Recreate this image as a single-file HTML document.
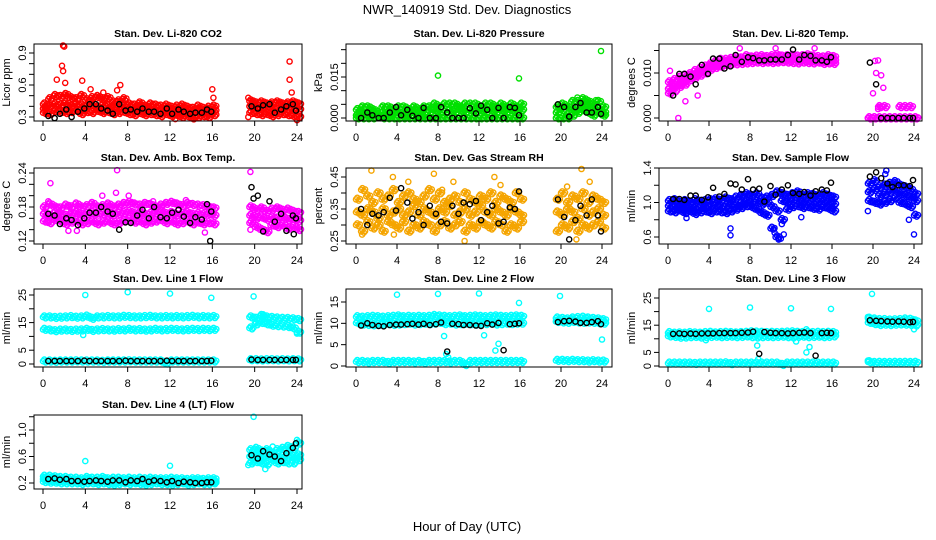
<!DOCTYPE html>
<html><head><meta charset="utf-8">
<style>
html,body{margin:0;padding:0;background:#fff;}
svg{display:block;font-family:"Liberation Sans",Arial,sans-serif;}
</style></head>
<body>
<svg id="chart" width="936" height="540" viewBox="0 0 936 540">
<text x="467" y="14" text-anchor="middle" font-size="13">NWR_140919 Std. Dev. Diagnostics</text>
<text x="467" y="531" text-anchor="middle" font-size="13">Hour of Day (UTC)</text>
</svg>
<script>
const gridHours=[0,0.5,1,1.5,2,2.5,3,3.5,4,4.5,5,5.5,6,6.5,7,7.5,8,8.5,9,9.5,10,10.5,11,11.5,12,12.5,13,13.5,14,14.5,15,15.5,16,19.5,20,20.5,21,21.5,22,22.5,23,23.5,24];
const blkHours=[0.5,1.1,1.6,2.2,2.7,3.3,3.9,4.4,5.0,5.5,6.1,6.6,7.2,7.8,8.3,8.9,9.4,10.0,10.5,11.1,11.7,12.2,12.8,13.3,13.9,14.4,15.0,15.5,15.9,19.7,20.3,20.8,21.4,21.9,22.5,23.0,23.6,23.9];
const xTicks=[0,4,8,12,16,20,24];

const co2A=[0.42,0.47,0.50,0.49,0.51,0.48,0.47,0.50,0.46,0.48,0.49,0.47,0.48,0.44,0.45,0.47,0.42,0.41,0.43,0.40,0.42,0.41,0.40,0.41,0.39,0.40,0.41,0.39,0.38,0.40,0.38,0.39,0.40,0.45,0.43,0.44,0.42,0.43,0.44,0.42,0.43,0.44,0.42];
const co2B=[0.38,0.40,0.42,0.41,0.43,0.40,0.42,0.41,0.40,0.42,0.39,0.41,0.40,0.38,0.39,0.41,0.37,0.36,0.38,0.36,0.37,0.36,0.35,0.37,0.35,0.36,0.35,0.34,0.35,0.34,0.35,0.34,0.36,0.40,0.39,0.38,0.39,0.38,0.37,0.38,0.39,0.38,0.37];
const co2C=[0.34,0.33,0.36,0.35,0.34,0.35,0.36,0.33,0.35,0.34,0.36,0.34,0.35,0.33,0.34,0.35,0.33,0.32,0.34,0.32,0.33,0.32,0.31,0.33,0.31,0.32,0.30,0.31,0.29,0.30,0.31,0.30,0.32,0.34,0.33,0.32,0.33,0.31,0.32,0.33,0.32,0.31,0.30];
const co2Out=[[1.9,0.97],[2.0,0.96],[1.8,0.78],[1.9,0.73],[1.3,0.65],[2.1,0.62],[3.7,0.64],[4.5,0.56],[5.7,0.53],[7.3,0.60],[7.0,0.55],[16,0.56],[16.1,0.48],[23.3,0.82],[23.3,0.65],[23.5,0.53],[24,0.27],[12.5,0.28],[14.2,0.28],[0.2,0.40],[19.4,0.30],[19.4,0.48]];
const co2Blk=[0.31,0.29,0.33,0.37,0.30,0.35,0.38,0.42,0.42,0.38,0.36,0.33,0.42,0.36,0.37,0.35,0.38,0.35,0.35,0.33,0.38,0.33,0.37,0.35,0.33,0.34,0.34,0.37,0.35,0.40,0.38,0.41,0.42,0.34,0.37,0.40,0.42,0.36];

const prA=[0.003,0.004,0.004,0.003,0.002,0.004,0.004,0.003,0.004,0.004,0.003,0.004,0.003,0.004,0.004,0.005,0.004,0.005,0.005,0.005,0.004,0.005,0.005,0.005,0.004,0.005,0.005,0.004,0.005,0.004,0.005,0.004,0.005,0.004,0.005,0.004,0.006,0.006,0.007,0.006,0.005,0.006,0.004];
const prB=[0.001,0.002,0.001,0.002,0.001,0.002,0.001,0.002,0.002,0.001,0.002,0.002,0.001,0.002,0.002,0.003,0.002,0.002,0.003,0.002,0.003,0.002,0.003,0.002,0.003,0.002,0.003,0.002,0.003,0.002,0.003,0.002,0.003,0.002,0.003,0.001,0.003,0.004,0.005,0.004,0.003,0.003,0.002];
const prC=[0,0,0,0,0.001,0,0,0,0,0,0,0,0,0,0,0,0,0,0,0,0,0,0,0,0,0,0,0,0,0,0,0,0,0,0,0,0.001,0.002,0.003,0.002,0.001,0.002,0.001];
const prOut=[[8,0.0155],[15.9,0.0145],[23.9,0.0245],[21.6,0.0075],[23.4,0.0065]];
const prBlk=[0,0.002,0.001,0,0,0.002,0.004,0.001,0.003,0.0008,0,0.0037,0,0,0.004,0.002,0,0,0,0.0036,0.0017,0.0045,0.003,0,0.0037,0,0.004,0.0037,0.001,0.005,0.004,0.0005,0.004,0.0055,0.002,0.002,0.004,0.0015];

const tA=[0.008,0.0085,0.009,0.0095,0.0098,0.0105,0.011,0.0115,0.012,0.0125,0.013,0.013,0.0132,0.0135,0.0133,0.0138,0.0135,0.0137,0.0138,0.0136,0.0138,0.014,0.0137,0.0138,0.0139,0.0137,0.0138,0.014,0.0137,0.0136,0.0135,0.0138,0.0136,0,0,0,0,0,0,0,0,0,0];
const tB=[0.0065,0.0072,0.0075,0.0082,0.009,0.0095,0.0102,0.0108,0.0115,0.0118,0.0122,0.0124,0.0125,0.0127,0.0128,0.0129,0.013,0.0131,0.013,0.0129,0.0131,0.013,0.0129,0.013,0.0131,0.0129,0.013,0.0128,0.013,0.0129,0.0128,0.0129,0.0128,0,0,0,0,0,0,0,0,0,0];
const tC=[0.0055,0.006,0.007,0.0075,0.0085,0.009,0.0095,0.01,0.0108,0.0112,0.0115,0.0118,0.012,0.012,0.0121,0.0122,0.0123,0.0124,0.0123,0.0124,0.0123,0.0124,0.0125,0.0124,0.0123,0.0122,0.0124,0.0123,0.0122,0.0124,0.0121,0.0122,0.0121,0,0,0.0025,0.0025,0,0,0.0025,0.0025,0.0025,0];
const tOut=[[0.2,0.0105],[1,0],[1.7,0.0037],[2.9,0.005],[20.2,0.0127],[20.5,0.0128],[20,0.0055],[20.3,0.01],[20.8,0.0095],[21,0.0067],[20.5,0.002],[20.7,0.0025],[10.5,0.0155],[14.3,0.0155],[7,0.0155]];
const tBlk=[0.005,0.0098,0.0098,0.0092,0.0075,0.0118,0.0098,0.0132,0.0132,0.011,0.0115,0.014,0.0125,0.0135,0.0133,0.0128,0.0128,0.013,0.013,0.013,0.014,0.0152,0.013,0.014,0.0138,0.0128,0.0128,0.0125,0.0135,0.0123,0.0075,0,0,0,0,0,0,0];

const aA=[0.18,0.185,0.18,0.178,0.183,0.18,0.185,0.18,0.182,0.186,0.18,0.182,0.185,0.18,0.183,0.186,0.188,0.185,0.183,0.186,0.184,0.18,0.183,0.186,0.188,0.185,0.182,0.186,0.184,0.183,0.182,0.18,0.178,0.18,0.175,0.178,0.172,0.176,0.178,0.174,0.176,0.172,0.17];
const aB=[0.168,0.165,0.17,0.167,0.165,0.168,0.17,0.166,0.168,0.17,0.167,0.168,0.17,0.166,0.168,0.17,0.172,0.168,0.17,0.167,0.168,0.17,0.172,0.168,0.17,0.166,0.168,0.17,0.167,0.168,0.166,0.168,0.165,0.165,0.16,0.162,0.158,0.162,0.16,0.162,0.158,0.16,0.156];
const aC=[0.155,0.152,0.158,0.155,0.15,0.153,0.156,0.15,0.152,0.155,0.15,0.153,0.155,0.15,0.152,0.155,0.157,0.153,0.155,0.15,0.153,0.155,0.157,0.152,0.155,0.15,0.152,0.155,0.15,0.153,0.15,0.152,0.15,0.152,0.145,0.14,0.136,0.148,0.145,0.148,0.142,0.145,0.14];
const aOut=[[0.7,0.222],[2.4,0.138],[3.2,0.138],[7,0.245],[6.9,0.205],[5.6,0.2],[8.1,0.2],[10.4,0.19],[15.3,0.135],[19.6,0.242],[19.6,0.14],[0.5,0.19],[13.5,0.192]];
const aBlk=[0.168,0.165,0.15,0.16,0.157,0.148,0.16,0.17,0.17,0.18,0.172,0.168,0.14,0.153,0.152,0.165,0.175,0.16,0.18,0.162,0.16,0.17,0.175,0.163,0.152,0.162,0.158,0.185,0.172,0.215,0.2,0.137,0.19,0.154,0.168,0.138,0.165,0.16];
const aBlkOut=[[15.8,0.12],[23.7,0.132],[19.9,0.195]];

const rA=[0.38,0.41,0.39,0.37,0.40,0.38,0.39,0.41,0.37,0.39,0.40,0.38,0.37,0.39,0.41,0.38,0.40,0.37,0.38,0.39,0.37,0.40,0.38,0.37,0.39,0.38,0.40,0.37,0.39,0.38,0.37,0.40,0.38,0.38,0.40,0.37,0.39,0.38,0.40,0.37,0.39,0.38,0.37];
const rB=[0.34,0.33,0.35,0.34,0.32,0.35,0.33,0.34,0.35,0.33,0.34,0.36,0.33,0.35,0.34,0.33,0.35,0.34,0.36,0.33,0.34,0.35,0.33,0.34,0.36,0.34,0.33,0.35,0.34,0.33,0.35,0.34,0.33,0.34,0.33,0.35,0.34,0.32,0.35,0.33,0.34,0.35,0.33];
const rC=[0.30,0.28,0.31,0.29,0.30,0.28,0.31,0.30,0.29,0.31,0.28,0.30,0.29,0.31,0.30,0.28,0.30,0.31,0.29,0.30,0.31,0.28,0.30,0.29,0.31,0.30,0.29,0.31,0.30,0.28,0.30,0.29,0.31,0.28,0.30,0.29,0.31,0.28,0.30,0.29,0.30,0.31,0.29];
const rOut=[[1.5,0.47],[3.6,0.45],[7.6,0.46],[9.5,0.435],[10.6,0.25],[13.5,0.45],[14.1,0.425],[22,0.475],[22.8,0.435],[20.6,0.42],[5.1,0.435],[0.6,0.27],[3.7,0.27],[21.5,0.255],[8.4,0.41]];
const rBlk=[0.35,0.30,0.335,0.33,0.34,0.385,0.345,0.415,0.37,0.32,0.34,0.30,0.36,0.335,0.31,0.305,0.36,0.335,0.37,0.365,0.375,0.315,0.34,0.36,0.305,0.31,0.355,0.35,0.405,0.38,0.325,0.255,0.315,0.36,0.33,0.38,0.33,0.28];

const sA=[1.02,1.03,1.0,1.02,1.0,1.03,1.01,1.02,1.03,1.04,1.02,1.05,1.03,1.06,1.08,1.10,1.08,1.10,1.05,1.06,1.08,1.12,1.10,1.08,1.1,1.12,1.08,1.10,1.09,1.07,1.10,1.08,1.06,1.22,1.25,1.18,1.2,1.22,1.24,1.2,1.18,1.15,1.1];
const sB=[0.96,0.95,0.94,0.96,0.93,0.95,0.94,0.96,0.95,0.97,0.95,0.96,0.98,0.97,1.0,1.02,1.0,1.01,0.98,1.0,0.95,0.9,1.02,1.0,1.02,1.03,1.0,1.02,1.01,1.0,1.02,1.0,0.98,1.12,1.15,1.08,1.1,1.12,1.14,1.1,1.08,1.06,1.02];
const sC=[0.9,0.89,0.91,0.88,0.9,0.87,0.89,0.9,0.88,0.9,0.89,0.88,0.9,0.92,0.94,0.96,0.95,0.92,0.88,0.85,0.7,0.6,0.8,0.92,0.95,0.96,0.94,0.95,0.93,0.92,0.95,0.93,0.9,1.02,1.0,0.98,1.0,1.02,1.05,1.0,0.98,0.95,0.85];
const sOut=[[1.8,0.82],[6.1,0.7],[6.1,0.62],[10.3,0.69],[10.4,0.65],[10.8,0.57],[11.3,0.63],[11.1,0.75],[13,0.83],[19.5,0.9],[21.2,1.33],[21.3,1.37],[23.5,0.8],[24,0.63],[11,0.58]];
const sBlk=[1.04,1.04,1.03,1.08,1.08,1.03,1.06,1.17,1.07,1.1,1.22,1.21,1.15,1.27,1.15,1.16,1.01,1.19,1.09,1.15,1.2,1.11,1.1,1.12,1.08,1.13,1.15,1.14,1.23,1.3,1.35,1.28,1.22,1.18,1.2,1.2,1.19,1.26];

const l1A=[17,17,16.8,16.9,17,17.1,16.9,17,17.3,16.5,17,17,17.1,17,17,17.2,17.1,17,17,17.1,17.2,17,17,17.1,17,17.1,17,17.1,17.2,17,17.1,17,17.1,17,16.5,17.5,17,16.8,16.6,16.5,16.4,16.3,16];
const l1B=[12.5,12.3,12,12.2,12.3,12.1,12.2,12.3,12.5,12.1,12.3,12.4,12.3,12.2,12.4,12.3,12.5,12.3,12.4,12.2,12.3,12.5,12.3,12.4,12.5,12.4,12.3,12.4,12.5,12.4,12.5,12.4,12.5,13,14.5,15,14.5,14,13.8,13.7,13.5,13,11.5];
const l1C=[1,1,0.9,1,1,1,1.1,1,1,1,1,0.9,1,1,1,1,1.1,1,1,1,1,1,1,0.3,1,1,1,1,1,1,1,1,1,1.5,1.5,1.4,1.5,1.5,1.4,1.5,1.4,1.5,1.4];
const l1Out=[[4,25],[8,26],[12,25.5],[15.9,24],[19.9,24.5],[3.8,10.5],[24,11],[20.8,18]];
const l1Blk=[1.1,1.1,1.1,1.1,1.1,1.1,1.2,1.1,1.1,1.1,1.1,1.1,1.1,1.2,1.1,1.1,1.1,1.1,1.1,1.1,1.2,1.1,1.1,1.1,1.1,1.1,1.1,1.1,1.2,1.6,1.5,1.5,1.5,1.5,1.5,1.5,1.5,1.5];

const l2A=[11.5,11.4,11.5,11.6,11.5,11.4,11.5,11.6,11.7,11.5,11.6,11.5,11.6,11.5,11.6,11.8,11.7,11.6,11.5,11.6,11.7,11.5,11.6,11.7,11.6,11.5,11.6,11.7,11.6,11.5,11.6,11.7,11.6,11.2,11.1,11.0,11.2,11.3,11.4,11.2,11.1,11.0,10.8];
const l2B=[10.1,9.8,9.7,9.6,9.7,9.8,9.9,9.7,9.8,9.9,10,9.8,9.9,10,9.9,10,10.2,9.9,10,9.8,9.9,10,9.9,9.8,10,9.9,10,9.8,9.9,10,9.9,10,10,10.4,10.3,10.2,10.4,10.3,10.2,10.3,10.2,10.1,10];
const l2C=[1,1,0.9,1,1,1,0.8,1,1,1,1,0.9,1,0.8,1,1,1,1,0.9,1,1,0.3,1,1,1,1,1,1,1,1,1,1,1,1.3,1.3,1.2,1.3,1.2,1.2,1.1,1.2,1.1,1.1];
const l2Out=[[4,16.7],[8,16.9],[12,17],[15.9,14.8],[19.9,16.4],[8.6,7],[12.5,7.2],[8.8,2.8],[9,2],[13.9,5.2],[13.6,3.6],[24,6.2]];
const l2Blk=[9.5,10,9.6,9.4,9.3,9.6,9.7,9.7,9.8,9.9,9.7,9.9,9.6,9.8,10.2,3.4,9.9,9.8,9.6,9.6,9.5,9.4,10,9.7,10.1,3.7,9.8,9.9,10,10.3,10.5,10.6,10.4,10.1,10.1,10.3,10.5,9.8];

const l3A=[12.2,12,12.1,12,12.2,12.1,12,12.2,12.3,12.1,12.2,12.3,12.2,12.1,12.2,12.3,12.5,12.4,12.3,12.2,12.3,12.2,12.3,12.4,12.5,12.3,12.2,12.3,12.2,12.3,12.2,12.3,12.2,17.5,17.2,17,17,16.8,16.9,17,17.2,17.1,16.5];
const l3B=[11,10.8,10.5,10.6,10.7,10.8,10.6,10.7,10.8,10.9,10.7,10.8,10.9,10.7,10.8,11,10.7,10.6,10.7,10.8,10.7,10.8,10.9,10.7,10.6,10.8,10.9,10.7,10.8,10.9,10.7,10.8,11,16,15.5,15.2,15.3,15.2,15.3,15.4,15.3,15.2,15];
const l3C=[1,1,1,1,1,0.9,1,1,1,1,1,1.1,0.8,1,1,1,1,1,1,1,1,1,0.5,1,1,1,1,1,1,1,1,1,1,1.5,1.2,1.3,1.2,1.2,1.3,1.2,1.3,1.2,1.3];
const l3Out=[[4,21],[8,21.5],[12,21.2],[15.9,21],[19.9,26.5],[3.7,9.5],[8.7,7.5],[8.8,2.5],[12.5,9],[13.5,5],[13.8,7],[13.5,13.5],[19.5,18],[24,13.5],[19.5,2]];
const l3Blk=[11.8,12,11.8,11.9,11.8,12,12,12,12.1,12.1,12.1,12.1,12.2,12.3,12.6,4.5,12.5,12.2,12.1,12.1,12,12.1,12.2,12.3,12.1,3.8,12.1,12.2,12.1,16.8,16.6,16.5,16.4,16.3,16.4,16.3,16.1,16.2];

const l4A=[0.3,0.3,0.29,0.28,0.28,0.27,0.27,0.26,0.28,0.27,0.27,0.28,0.26,0.27,0.27,0.26,0.27,0.26,0.27,0.26,0.27,0.26,0.26,0.26,0.27,0.26,0.26,0.25,0.26,0.26,0.25,0.26,0.26,0.7,0.72,0.68,0.7,0.65,0.7,0.72,0.75,0.72,0.8];
const l4B=[0.26,0.25,0.25,0.24,0.24,0.23,0.24,0.23,0.23,0.24,0.22,0.23,0.22,0.21,0.23,0.22,0.23,0.22,0.23,0.21,0.22,0.23,0.22,0.22,0.21,0.22,0.21,0.22,0.21,0.22,0.21,0.22,0.22,0.6,0.62,0.58,0.6,0.62,0.58,0.6,0.62,0.6,0.62];
const l4C=[0.22,0.21,0.21,0.2,0.2,0.2,0.2,0.19,0.2,0.2,0.19,0.2,0.19,0.18,0.19,0.2,0.19,0.2,0.19,0.18,0.19,0.2,0.19,0.19,0.18,0.19,0.2,0.18,0.19,0.2,0.19,0.19,0.2,0.5,0.52,0.5,0.48,0.55,0.5,0.52,0.5,0.5,0.55];
const l4Out=[[4,0.53],[12,0.46],[19.9,1.2],[19.4,0.47],[21.7,0.75],[21,0.41],[24,0.85]];
const l4Blk=[0.26,0.27,0.25,0.26,0.23,0.23,0.22,0.23,0.24,0.23,0.22,0.24,0.24,0.21,0.24,0.23,0.26,0.22,0.24,0.23,0.21,0.23,0.2,0.22,0.21,0.2,0.2,0.21,0.21,0.62,0.57,0.68,0.63,0.6,0.53,0.65,0.73,0.8];

const yTicksP1=[0.3,0.4,0.5,0.6,0.7,0.8,0.9], yLabP1=["0.3","0.6","0.9"];
const yTicksP2=[0,0.005,0.01,0.015,0.02,0.025], yLabP2=["0.000","0.015"];
const yTicksP3=[0,0.005,0.01,0.015], yLabP3=["0.000","0.010"];
const yTicksP4=[0.12,0.14,0.16,0.18,0.2,0.22,0.24], yLabP4=["0.12","0.18","0.24"];
const yTicksP5=[0.25,0.3,0.35,0.4,0.45], yLabP5=["0.25","0.35","0.45"];
const yTicksP6=[0.6,0.8,1.0,1.2,1.4], yLabP6=["0.6","1.0","1.4"];
const yTicksP7=[0,5,10,15,20,25], yLabP7=["0","5","15","25"];
const yTicksP8=[0,5,10,15], yLabP8=["0","5","10","15"];
const yTicksP9=[0,5,10,15,20,25], yLabP9=["0","5","15","25"];
const yTicksP10=[0.2,0.4,0.6,0.8,1.0,1.2], yLabP10=["0.2","0.6","1.0"];

const cols=[{l:34,r:302,x0:43,x24:297},{l:346,r:612,x0:356,x24:602},{l:659,r:922,x0:668,x24:914}];
const rows=[{t:44,b:121},{t:168,b:244},{t:289,b:367},{t:415,b:489}];
const jitter=[[0,0],[2.7,1.2],[1.3,-1.6],[4,-0.4]];
const panels=[
 {name:"co2",title:"Stan. Dev. Li-820 CO2",ylab:"Licor ppm",c:0,r:0,v0:0.3,p0:117,v1:0.9,p1:53,ticks:yTicksP1,labs:yLabP1,color:"#ff0000",bands:[co2A,co2B,co2C],out:co2Out,blk:co2Blk},
 {name:"pressure",title:"Stan. Dev. Li-820 Pressure",ylab:"kPa",c:1,r:0,v0:0,p0:118,v1:0.015,p1:77,ticks:yTicksP2,labs:yLabP2,color:"#00e000",bands:[prA,prB,prC],out:prOut,blk:prBlk},
 {name:"li820-temp",title:"Stan. Dev. Li-820 Temp.",ylab:"degrees C",c:2,r:0,v0:0,p0:118,v1:0.01,p1:73,ticks:yTicksP3,labs:yLabP3,color:"#ff00ff",bands:[tA,tB,tC],out:tOut,blk:tBlk},
 {name:"amb-box-temp",title:"Stan. Dev. Amb. Box Temp.",ylab:"degrees C",c:0,r:1,v0:0.12,p0:241,v1:0.24,p1:173,ticks:yTicksP4,labs:yLabP4,color:"#ff00ff",bands:[aA,aB,aC],out:aOut,blk:aBlk,blkOut:aBlkOut},
 {name:"gas-stream-rh",title:"Stan. Dev. Gas Stream RH",ylab:"percent",c:1,r:1,v0:0.25,p0:241,v1:0.45,p1:177,ticks:yTicksP5,labs:yLabP5,color:"#f5a500",bands:[rA,rB,rC],out:rOut,blk:rBlk},
 {name:"sample-flow",title:"Stan. Dev. Sample Flow",ylab:"ml/min",c:2,r:1,v0:0.6,p0:237,v1:1.4,p1:168,ticks:yTicksP6,labs:yLabP6,color:"#0000ff",bands:[sA,sB,sC],out:sOut,blk:sBlk},
 {name:"line1-flow",title:"Stan. Dev. Line 1 Flow",ylab:"ml/min",c:0,r:2,v0:0,p0:364,v1:25,p1:295,ticks:yTicksP7,labs:yLabP7,color:"#00ffff",bands:[l1A,l1B,l1C],out:l1Out,blk:l1Blk},
 {name:"line2-flow",title:"Stan. Dev. Line 2 Flow",ylab:"ml/min",c:1,r:2,v0:0,p0:366,v1:15,p1:302,ticks:yTicksP8,labs:yLabP8,color:"#00ffff",bands:[l2A,l2B,l2C],out:l2Out,blk:l2Blk},
 {name:"line3-flow",title:"Stan. Dev. Line 3 Flow",ylab:"ml/min",c:2,r:2,v0:0,p0:366,v1:25,p1:298,ticks:yTicksP9,labs:yLabP9,color:"#00ffff",bands:[l3A,l3B,l3C],out:l3Out,blk:l3Blk},
 {name:"line4-flow",title:"Stan. Dev. Line 4 (LT) Flow",ylab:"ml/min",c:0,r:3,v0:0.2,p0:483,v1:1.0,p1:430,ticks:yTicksP10,labs:yLabP10,color:"#00ffff",bands:[l4A,l4B,l4C],out:l4Out,blk:l4Blk}
];
const NS="http://www.w3.org/2000/svg";
const svg=document.getElementById("chart");
function mk(tag,attrs,parent){const e=document.createElementNS(NS,tag);for(const k in attrs)e.setAttribute(k,attrs[k]);parent.appendChild(e);return e;}
function fmt(v,labs){for(const s of labs){if(Math.abs(parseFloat(s)-v)<1e-9)return s;}return null;}
panels.forEach(p=>{
 const C=cols[p.c],R=rows[p.r];
 const xs=h=>C.x0+(h/24)*(C.x24-C.x0);
 const ys=v=>p.p0+(v-p.v0)*(p.p1-p.p0)/(p.v1-p.v0);
 const g=mk("g",{},svg);
 
 
 const t=mk("text",{x:(C.l+C.r)/2,y:R.t-7,"text-anchor":"middle","font-size":"10.5","font-weight":"bold"},g);
 t.textContent=p.title;
 
 
 const yl=mk("text",{transform:`translate(${C.l-24},${(R.t+R.b)/2}) rotate(-90)`,"text-anchor":"middle","font-size":"11"},g);
 yl.textContent=p.ylab;
 
 
 const pts=mk("g",{fill:"none","stroke-width":"1.4"},g);
 
 
 p.bands.forEach(b=>b.forEach((v,i)=>{
  jitter.forEach(j=>{
   const c=mk("circle",{cx:(xs(gridHours[i])+j[0]).toFixed(1),cy:(ys(v)+j[1]).toFixed(1),r:2.6,stroke:p.color},pts);
   
   
  });
 }));
 p.out.forEach(o=>{
  const c=mk("circle",{cx:xs(o[0]).toFixed(1),cy:ys(o[1]).toFixed(1),r:2.6,stroke:p.color},pts);
  
  
 });
 p.blk.forEach((v,i)=>{
  const c=mk("circle",{cx:xs(blkHours[i]).toFixed(1),cy:ys(v).toFixed(1),r:2.6,stroke:"#000"},pts);
  
  
 });
 (p.blkOut||[]).forEach(o=>{
  const c=mk("circle",{cx:xs(o[0]).toFixed(1),cy:ys(o[1]).toFixed(1),r:2.6,stroke:"#000"},pts);
  
  
 });
 const box=mk("rect",{x:C.l,y:R.t,width:C.r-C.l,height:R.b-R.t,fill:"none",stroke:"#000","stroke-width":"1"},g);
 
 
 const ax=mk("g",{stroke:"#000","stroke-width":"1"},g);
 
 
 mk("line",{x1:xs(0),x2:xs(24),y1:R.b,y2:R.b},ax);
 xTicks.forEach(h=>{
  mk("line",{x1:xs(h),x2:xs(h),y1:R.b,y2:R.b+5},ax);
  const tl=mk("text",{x:xs(h),y:R.b+20,"text-anchor":"middle","font-size":"11",stroke:"none",fill:"#000"},ax);
  tl.textContent=String(h);
  
  
 });
 const ay=mk("g",{stroke:"#000","stroke-width":"1"},g);
 
 
 mk("line",{x1:C.l,x2:C.l,y1:ys(p.ticks[0]),y2:ys(p.ticks[p.ticks.length-1])},ay);
 p.ticks.forEach(v=>{
  mk("line",{x1:C.l-5,x2:C.l,y1:ys(v),y2:ys(v)},ay);
  const s=fmt(v,p.labs);
  if(s){
   const tl=mk("text",{transform:`translate(${C.l-8},${ys(v)}) rotate(-90)`,"text-anchor":"middle","font-size":"11",stroke:"none",fill:"#000"},ay);
   tl.textContent=s;
   
   
  }
 });
});
</script>
</body></html>
